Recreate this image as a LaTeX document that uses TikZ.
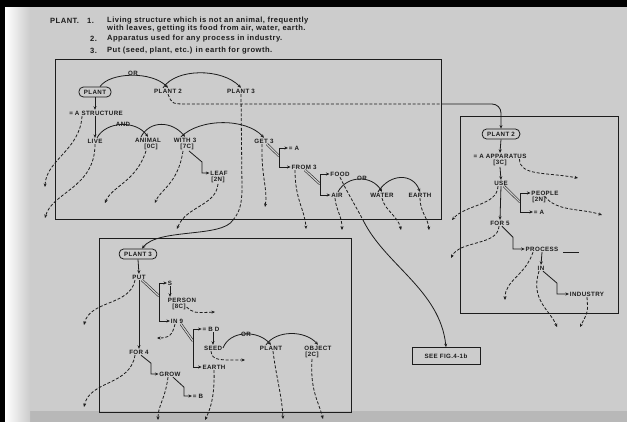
\documentclass[tikz,border=0pt]{standalone}
\usepackage{fontspec}
\setmainfont{Liberation Sans}
\newfontfamily\lblfont[LetterSpace=6]{Liberation Sans}
\newfontfamily\hdrfont[LetterSpace=6]{Liberation Sans}
\definecolor{scan}{RGB}{204,204,204}
\definecolor{scandark}{RGB}{184,184,184}
\definecolor{ink}{RGB}{28,28,28}
\usetikzlibrary{arrows.meta, positioning}

\begin{document}
\begin{tikzpicture}[
    x=1pt, y=-1pt,
    lbl/.style={text=ink, font=\lblfont\bfseries\fontsize{6.2}{6.6}\selectfont, inner sep=0.8pt},
    code/.style={lbl, below=0pt of #1},
    hdr/.style={text=ink, font=\hdrfont\bfseries\fontsize{7.6}{8}\selectfont, anchor=west, inner sep=0pt},
    root/.style={lbl, draw=ink, line width=0.8pt, rounded corners=4.5pt,
                 minimum height=10pt, inner xsep=5pt},
    frame/.style={draw=ink, line width=1pt},
    arr/.style={-{Stealth[length=3.5pt,width=3pt]}, ink, line width=0.8pt},
    dsh/.style={arr, dash pattern=on 3pt off 1.8pt},
    dline/.style={ink, line width=0.8pt, dash pattern=on 3pt off 1.8pt},
    dbl/.style={draw=ink, double=scan, double distance=1.3pt, line width=0.55pt}
  ]
  \useasboundingbox (0,0) rectangle (627,422);
  \fill[scan] (0,0) rectangle (627,422);
  \fill[scandark] (30,411) rectangle (627,422);
  \shade[left color=white, right color=scan] (5,0) rectangle (30,422);
  \fill[black] (0,0) rectangle (627,7);
  \fill[black] (0,0) rectangle (5,422);

  \node[hdr] (hplant) at (50,21) {PLANT.};
  \node[hdr] (hone)   at (87,21) {1.};
  \node[hdr] (hdefa)  at (107,21) {Living structure which is not an animal, frequently};
  \node[hdr] (hdefb)  at (107,29) {with leaves, getting its food from air, water, earth.};
  \node[hdr] (htwo)   at (90,39) {2.};
  \node[hdr] (hdeftwo) at (107,39) {Apparatus used for any process in industry.};
  \node[hdr] (hthree) at (90,51) {3.};
  \node[hdr] (hdefthree) at (107,51) {Put (seed, plant, etc.) in earth for growth.};

  \draw[frame] (55,60) rectangle (441,220);
  \draw[frame] (460,117) rectangle (618,314);
  \draw[frame] (99,239) rectangle (351,412);

  \node[root] (plant) at (95,92) {PLANT};
  \node[lbl] (plantb) at (168,91) {PLANT 2};
  \node[lbl] (plantc) at (241,91) {PLANT 3};
  \node[lbl] (ora) at (133,73) {OR};
  \node[lbl] (struct) at (96,113) {= A STRUCTURE};
  \node[lbl] (live) at (95,141) {LIVE};
  \node[lbl] (anda) at (123,124) {AND};
  \node[lbl] (animal) at (148,140) {ANIMAL};
  \node[code=animal, xshift=3pt] (animalc) {[0C]};
  \node[lbl] (with) at (185,140) {WITH 3};
  \node[code=with, xshift=2pt] (withc) {[7C]};
  \node[lbl] (leaf) at (219,173) {LEAF};
  \node[code=leaf, xshift=-1pt] (leafc) {[2N]};
  \node[lbl] (get) at (264,141) {GET 3};
  \node[lbl] (eqa) at (294,148) {= A};
  \node[lbl] (from) at (304,167) {FROM 3};
  \node[lbl] (food) at (340,174) {FOOD};
  \node[lbl] (air) at (337,195) {AIR};
  \node[lbl] (orb) at (362,178) {OR};
  \node[lbl] (water) at (382,195) {WATER};
  \node[lbl] (eartha) at (420,195) {EARTH};

  \node[root] (plantq) at (501,134) {PLANT 2};
  \node[lbl] (app) at (500,156) {= A APPARATUS};
  \node[code=app] (appc) {[3C]};
  \node[lbl] (use) at (501,183) {USE};
  \node[lbl] (people) at (545,193) {PEOPLE};
  \node[code=people, xshift=-6pt] (peoplec) {[2N]};
  \node[lbl] (eqab) at (539,212) {= A};
  \node[lbl] (forf) at (500,223) {FOR 5};
  \node[lbl] (process) at (542,249) {PROCESS};
  \node[lbl] (inp) at (541,268) {IN};
  \node[lbl] (industry) at (587,294) {INDUSTRY};

  \node[root] (plantr) at (138,254) {PLANT 3};
  \node[lbl] (put) at (139,277) {PUT};
  \node[lbl] (s) at (170,283) {S};
  \node[lbl] (person) at (182,300) {PERSON};
  \node[code=person, xshift=-3pt] (personc) {[8C]};
  \node[lbl] (inn) at (177,321) {IN 9};
  \node[lbl] (bd) at (211,329) {= B D};
  \node[lbl] (seed) at (213,348) {SEED};
  \node[lbl] (earthb) at (214,367) {EARTH};
  \node[lbl] (orc) at (246,334) {OR};
  \node[lbl] (plantp) at (271,348) {PLANT};
  \node[lbl] (object) at (318,348) {OBJECT};
  \node[code=object, xshift=-6pt] (objectc) {[2C]};
  \node[lbl] (forg) at (139,352) {FOR 4};
  \node[lbl] (grow) at (170,374) {GROW};
  \node[lbl] (eqb) at (198,396) {= B};

  \node[lbl, draw=ink, line width=0.8pt, minimum width=68pt, minimum height=17pt]
    (seefig) at (446,356) {SEE FIG.4-1b};

  \coordinate (xa) at (441,104);
  \coordinate (xb) at (233,220);
  \coordinate (xc) at (363,220);
  \coordinate (ga) at (279,156);
  \coordinate (gb) at (320,184);
  \coordinate (gc) at (520,202);
  \coordinate (gd) at (159,296);
  \coordinate (ge) at (193,341);
  \coordinate (e1) at (45,187);
  \coordinate (e2) at (45,218);
  \coordinate (e3) at (105,203);
  \coordinate (e4) at (155,203);
  \coordinate (e5) at (177,229);
  \coordinate (e6) at (265,207);
  \coordinate (e7) at (306,229);
  \coordinate (e8) at (342,230);
  \coordinate (e9) at (401,230);
  \coordinate (e10) at (429,230);
  \coordinate (e11) at (578,178);
  \coordinate (e12) at (452,220);
  \coordinate (e13) at (602,215);
  \coordinate (e14) at (451,258);
  \coordinate (e15) at (505,300);
  \coordinate (e16) at (557,327);
  \coordinate (e17) at (580,327);
  \coordinate (e18) at (84,325);
  \coordinate (e19) at (215,312);
  \coordinate (e20) at (157,338);
  \coordinate (e21) at (245,360);
  \coordinate (e22) at (283,419);
  \coordinate (e23) at (323,419);
  \coordinate (e24) at (205,420);
  \coordinate (e25) at (84,407);
  \coordinate (e26) at (158,420);

  \draw[arr] ([xshift=5pt]plant.north) .. controls (110,72) and (152,71) .. (plantb.north);
  \draw[arr] ([xshift=-5pt]plantb.north) .. controls (176,68) and (222,68) .. (plantc.north);
  \draw[dline] (plantb.south) .. controls (172,104) .. (188,104) -- (xa);
  \draw[arr, rounded corners=9pt] (xa) -| (plantq.north);
  \draw[dline] (plantc.south) -- (242,188) .. controls (242,205) and (239,213) .. (xb);
  \draw[arr] (xb) .. controls (222,238) and (158,228) .. ([xshift=4pt]plantr.north);

  \draw[arr] (plant.south) -- (plant.south |- struct.north);
  \draw[arr] (plant.south |- struct.south) -- (plant.south |- live.north);
  \draw[dsh] ([xshift=-14pt]struct.south) .. controls (80,150) and (46,160) .. (e1);
  \draw[dsh] (live.south) .. controls (95,188) and (52,192) .. (e2);
  \draw[arr] ([xshift=2pt]live.north) .. controls (106,121) and (136,120) .. (animal.north);
  \draw[arr] ([xshift=-7pt]animal.north) .. controls (150,120) and (172,121) .. (with.north);
  \draw[arr] ([xshift=-4pt]with.north) .. controls (200,118) and (246,118) .. (get.north);
  \draw[dsh] ([xshift=-5pt]animalc.south) .. controls (136,182) and (112,186) .. (e3);
  \draw[dsh] ([xshift=-4pt]withc.south) .. controls (178,184) and (160,190) .. (e4);
  \draw[arr] ([xshift=2pt]withc.south) -- ++(13,11) |- (leaf.west);
  \draw[dsh] (leafc.south) .. controls (216,206) and (186,206) .. (e5);
  \draw[dsh] ([xshift=-2pt]get.south) .. controls (261,176) and (268,190) .. (e6);
  \draw[dbl] ([xshift=3pt]get.south) -- (ga);
  \draw[arr] (ga) |- (eqa.west);
  \draw[arr] (ga) |- (from.west);
  \draw[dsh] ([xshift=-9pt]from.south) .. controls (295,200) and (305,210) .. (e7);
  \draw[dbl] ([xshift=1pt]from.south) -- (gb);
  \draw[arr] (gb) |- (food.west);
  \draw[arr] (gb) |- (air.west);
  \draw[arr] ([xshift=1pt]air.north) .. controls (347,175) and (372,175) .. (water.north);
  \draw[arr] ([xshift=-4pt]water.north) .. controls (390,173) and (413,173) .. (eartha.north);
  \draw[dsh] ([xshift=-2pt]air.south) .. controls (336,210) and (342,216) .. (e8);
  \draw[dsh] (water.south) .. controls (385,211) and (398,216) .. (e9);
  \draw[dsh] (eartha.south) .. controls (420,212) and (428,218) .. (e10);
  \draw[dline] (food.south) .. controls (346,190) and (355,205) .. (xc);
  \draw[arr] (xc) .. controls (385,265) and (440,290) .. (seefig.north);

  \draw[arr] (plantq.south) -- (app.north);
  \draw[dsh] ([xshift=-8pt]app.south east) .. controls (520,176) and (545,172) .. (e11);
  \draw[arr] (appc.south) -- (use.north);
  \draw[arr] (use.south) -- (forf.north);
  \draw[dsh] ([xshift=-3pt]use.south) .. controls (497,206) and (466,204) .. (e12);
  \draw[dbl] ([xshift=3pt]use.south) -- (gc);
  \draw[arr] (gc) |- (people.west);
  \draw[arr] (gc) |- (eqab.west);
  \draw[dsh] ([xshift=-2pt]peoplec.north east) .. controls (557,212) and (580,208) .. (e13);
  \draw[dsh] ([xshift=-1pt]forf.south) .. controls (498,246) and (460,240) .. (e14);
  \draw[arr] ([xshift=2pt]forf.south) -- ++(11,11) |- (process.west);
  \draw[ink, line width=0.8pt] ([xshift=4pt]process.south east) -- ++(16,0);
  \draw[dsh] ([xshift=-9pt]process.south) .. controls (525,276) and (505,280) .. (e15);
  \draw[arr] (process.south) -- (inp.north);
  \draw[dsh] ([xshift=-2pt]inp.south) .. controls (530,300) and (550,310) .. (e16);
  \draw[arr] ([xshift=2pt]inp.south) -- ++(14,12) |- (industry.west);
  \draw[dsh] (industry.south) .. controls (588,312) .. (e17);

  \draw[arr] (plantr.south) -- (put.north);
  \draw[arr] (put.south) -- (forg.north);
  \draw[dsh] ([xshift=-4pt]put.south) .. controls (130,306) and (90,300) .. (e18);
  \draw[dbl] ([xshift=3pt]put.south) -- (gd);
  \draw[arr] (gd) |- (s.west);
  \draw[arr] (gd) |- (inn.west);
  \draw[arr] (s.south) -- (s.south |- person.north);
  \draw[dsh] (personc.east) .. controls (194,313) .. (e19);
  \draw[dsh] ([xshift=-2pt]inn.south) .. controls (172,338) and (166,338) .. (e20);
  \draw[dbl] ([xshift=4pt]inn.south) -- (ge);
  \draw[arr] (ge) |- (bd.west);
  \draw[arr] (ge) |- (earthb.west);
  \draw[arr] (seed.north |- bd.south) -- (seed.north);
  \draw[dsh] ([xshift=-2pt]seed.south) .. controls (212,361) and (220,360) .. (e21);
  \draw[arr] (seed.east) .. controls (230,330) and (258,330) .. (plantp.north);
  \draw[arr] ([xshift=-5pt]plantp.north) .. controls (276,330) and (305,330) .. (object.north);
  \draw[dsh] ([xshift=2pt]plantp.south) .. controls (276,376) and (282,396) .. (e22);
  \draw[dsh] (objectc.south) .. controls (310,390) and (318,400) .. (e23);
  \draw[dsh] (earthb.south) .. controls (215,396) and (210,410) .. (e24);
  \draw[dsh] ([xshift=-4pt]forg.south) .. controls (130,386) and (90,380) .. (e25);
  \draw[arr] ([xshift=2pt]forg.south) -- ++(10,8) |- (grow.west);
  \draw[dsh] ([xshift=-2pt]grow.south) .. controls (165,400) and (158,405) .. (e26);
  \draw[arr] ([xshift=3pt]grow.south) -- ++(11,10) |- (eqb.west);
\end{tikzpicture}
\end{document}
